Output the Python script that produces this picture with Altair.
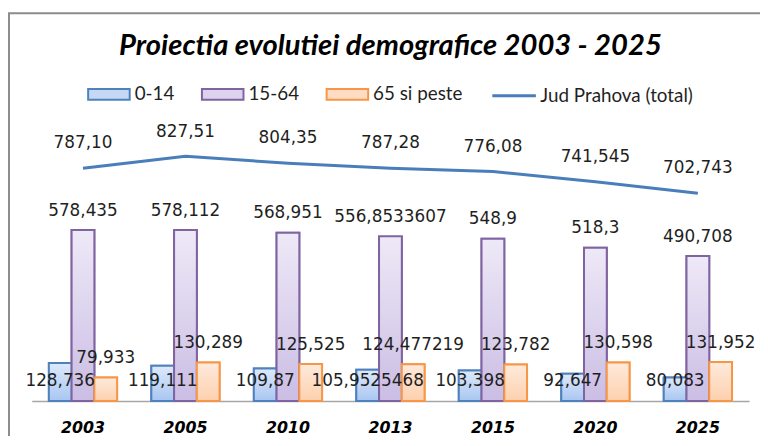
import altair as alt
import pandas as pd

# ---------------- data ----------------
years = ["2003", "2005", "2010", "2013", "2015", "2020", "2025"]
series_names = ["0-14", "15-64", "65 si peste"]
total_name = "Jud Prahova (total)"

age_0_14 = [128.736, 119.111, 109.87, 105.9525468, 103.398, 92.647, 80.083]
age_15_64 = [578.435, 578.112, 568.951, 556.8533607, 548.9, 518.3, 490.708]
age_65_plus = [79.933, 130.289, 125.525, 124.477219, 123.782, 130.598, 131.952]
total = [787.10, 827.51, 804.35, 787.28, 776.08, 741.545, 702.743]

labels_0_14 = ["128,736", "119,111", "109,87", "105,9525468", "103,398", "92,647", "80,083"]
labels_15_64 = ["578,435", "578,112", "568,951", "556,8533607", "548,9", "518,3", "490,708"]
labels_65_plus = ["79,933", "130,289", "125,525", "124,477219", "123,782", "130,598", "131,952"]
labels_total = ["787,10", "827,51", "804,35", "787,28", "776,08", "741,545", "702,743"]

title_text = "Proiectia evolutiei demografice 2003 - 2025"

# ---------------- styles ----------------
fill_mid = ["#c5d9f5", "#ddd3ee", "#fddcc3"]
border = ["#4f81bd", "#8064a2", "#f79646"]
grad_top = ["#dde9fb", "#eee9f7", "#feeadc"]
grad_bottom = ["#a9c6f1", "#cbbde4", "#fdd0ad"]
line_color = "#4a7ebb"
label_color = "#1f1f1f"

rows = []
for vals, labs, name in [(age_0_14, labels_0_14, series_names[0]),
                         (age_15_64, labels_15_64, series_names[1]),
                         (age_65_plus, labels_65_plus, series_names[2])]:
    for y, v, l in zip(years, vals, labs):
        rows.append({"year": y, "series": name, "value": v, "label": l})
bars_df = pd.DataFrame(rows)
tot_df = pd.DataFrame({"year": years, "total": total, "label": labels_total,
                       "name": [total_name] * len(years)})

yscale = alt.Scale(domain=[0, 950], nice=False)
xscale = alt.Scale(domain=years, paddingInner=0.334, paddingOuter=0.167)
x_enc = alt.X("year:N", sort=years, title=None, scale=xscale)
xoff = alt.XOffset("series:N", scale=alt.Scale(domain=series_names))

rect_symbol = "M-1,-0.262L1,-0.262L1,0.262L-1,0.262Z"
bar_legend = alt.Legend(orient="none", legendX=56, legendY=-48, direction="horizontal",
                        title=None, symbolType=rect_symbol, symbolSize=1764,
                        symbolStrokeWidth=2, labelFont="Lato", labelFontSize=19,
                        labelColor=label_color, labelOffset=4, columnPadding=23,
                        padding=0)

frame = alt.Chart(pd.DataFrame({"f": [0]})).mark_rect(
    fillOpacity=0, stroke="#8c8c8c", strokeWidth=2
).encode(x=alt.value(-23), x2=alt.value(800), y=alt.value(-108), y2=alt.value(500))

base_bars = alt.Chart(bars_df).mark_bar(strokeWidth=2).encode(
    x=x_enc, xOffset=xoff,
    y=alt.Y("value:Q", axis=None, scale=yscale),
    fill=alt.Fill("series:N", scale=alt.Scale(domain=series_names, range=fill_mid), legend=bar_legend),
    stroke=alt.Stroke("series:N", scale=alt.Scale(domain=series_names, range=border), legend=bar_legend),
)

grad_layers = []
for i, s in enumerate(series_names):
    grad = alt.Gradient(gradient="linear",
                        stops=[alt.GradientStop(color=grad_top[i], offset=0),
                               alt.GradientStop(color=grad_bottom[i], offset=1)],
                        x1=0, x2=0, y1=0, y2=1)
    grad_layers.append(
        alt.Chart(bars_df).transform_filter(alt.datum.series == s)
        .mark_bar(fill=grad, stroke=border[i], strokeWidth=2)
        .encode(x=x_enc, xOffset=xoff, y=alt.Y("value:Q", axis=None, scale=yscale))
    )

line = alt.Chart(tot_df).mark_line(strokeWidth=3).encode(
    x=x_enc,
    y=alt.Y("total:Q", axis=None, scale=yscale),
    color=alt.Color("name:N", scale=alt.Scale(domain=[total_name], range=[line_color]),
                    legend=alt.Legend(orient="none", legendX=464, legendY=-48,
                                      title=None, symbolType="stroke", symbolSize=1936,
                                      symbolStrokeWidth=3, labelFont="Lato",
                                      labelFontSize=19, labelColor=label_color,
                                      labelOffset=3, padding=0)),
)

txt = dict(font="DejaVu Sans", fontSize=17, color=label_color, baseline="middle")

line_labels = alt.Chart(tot_df).mark_text(dy=-25, **txt).encode(
    x=x_enc, y=alt.Y("total:Q", axis=None, scale=yscale), text="label:N")

upper_labels = alt.Chart(bars_df).transform_filter(
    alt.datum.series != series_names[0]
).mark_text(dy=-19.5, **txt).encode(
    x=x_enc, xOffset=xoff, y=alt.Y("value:Q", axis=None, scale=yscale), text="label:N")

blue_labels = alt.Chart(bars_df).transform_filter(
    alt.datum.series == series_names[0]
).transform_calculate(base="0").mark_text(dy=-20, **txt).encode(
    x=x_enc, xOffset=xoff, y=alt.Y("base:Q", axis=None, scale=yscale), text="label:N")

chart = alt.layer(
    frame, base_bars, *grad_layers, line, line_labels, upper_labels, blue_labels
).properties(
    width=725, height=284,
    autosize=alt.AutoSizeParams(type="none"),
    padding={"left": 24, "top": 111, "right": 11, "bottom": 33},
    title=alt.TitleParams(text=title_text, font="Lato", fontSize=29.5, fontWeight="bold",
                          fontStyle="italic", color="black", anchor="middle",
                          frame="group", offset=-64, baseline="middle"),
).configure_view(stroke=None).configure_axisX(
    labelFont="DejaVu Sans", labelFontSize=16, labelFontWeight="bold",
    labelFontStyle="italic", labelColor="black", labelAngle=0, labelPadding=27,
    labelBaseline="middle", ticks=False, tickSize=0, domainColor="#a6a6a6",
    domainWidth=1.5, grid=False,
)

chart.save("out.html", embed_options={"renderer": "svg", "actions": False})
